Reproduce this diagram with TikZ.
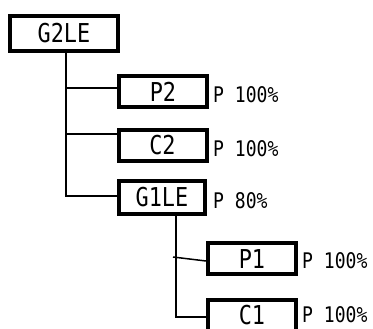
\documentclass[tikz,border=0pt]{standalone}
\usepackage{fontspec}
\newfontfamily\boxf[FakeStretch=0.84]{DejaVu Sans Mono}
\newfontfamily\lblf[FakeStretch=0.84]{DejaVu Sans Mono}
\begin{document}
\begin{tikzpicture}[x=1pt,y=-1pt,
  box/.style={draw, line width=4pt, minimum width=88pt, minimum height=31pt, inner sep=0pt, font=\boxf\fontsize{26}{26}\selectfont},
  bigbox/.style={box, minimum width=108pt, minimum height=35pt},
  lbl/.style={anchor=base west, inner sep=0pt, font=\lblf\fontsize{21.5}{21.5}\selectfont},
  conn/.style={line width=1.5pt}]
\useasboundingbox (0,0) rectangle (373,329);
\node[bigbox] (g2) at (64,33.5) {G2LE};
\node[box] (p2) at (163,92) {P2};
\node[box] (c2) at (162.5,145.5) {C2};
\node[box, minimum width=86pt, minimum height=33pt] (g1) at (162,197.5) {G1LE};
\node[box] (p1) at (252,259) {P1};
\node[box] (c1) at (252,315) {C1};
\node[lbl] (lp2) at (213,103) {P 100\%};
\node[lbl] (lc2) at (213,157) {P 100\%};
\node[lbl] (lg1) at (213,208) {P 80\%};
\node[lbl] (lp1) at (302,269) {P 100\%};
\node[lbl] (lc1) at (302,323) {P 100\%};
\coordinate (v1) at (66,53);
\coordinate (v1e) at (66,196);
\coordinate (jp2) at (66,88);
\coordinate (jc2) at (66,134);
\coordinate (v2) at (176,216);
\coordinate (v2e) at (176,317);
\coordinate (jp1) at (173,257);
\draw[conn] (v1) -- (v1e) -- (v1e -| g1.west);
\draw[conn] (jp2) -- (jp2 -| p2.west);
\draw[conn] (jc2) -- (jc2 -| c2.west);
\draw[conn] (v2) -- (v2e) -- (v2e -| c1.west);
\draw[conn] (jp1) -- ([yshift=-2pt]p1.west);
\end{tikzpicture}
\end{document}
